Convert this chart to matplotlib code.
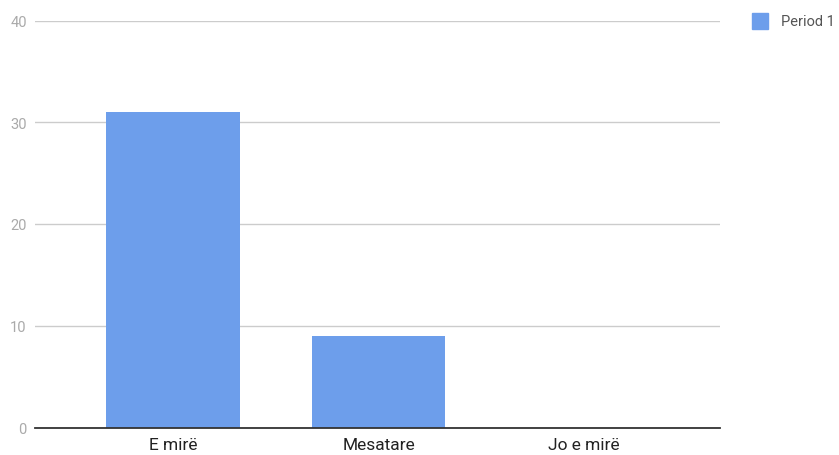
import matplotlib.pyplot as plt
from matplotlib.patches import Rectangle

categories = ["E mirë", "Mesatare", "Jo e mirë"]
period1 = [31, 9, 0]
yticks = [0, 10, 20, 30, 40]

BAR = "#6d9eeb"
GRID = "#cccccc"

plt.rcParams["font.family"] = ["Roboto", "DejaVu Sans"]

fig = plt.figure(figsize=(8.39, 4.56), dpi=100)
W, H = 839, 456
ax = fig.add_axes([35 / W, 27.5 / H, 685 / W, 407 / H])

x = list(range(len(categories)))
ax.bar(x, period1, width=0.65, color=BAR, zorder=3)

ax.set_xlim(-0.67, 2.66)
ax.set_ylim(0, 40)
ax.set_yticks(yticks)
ax.set_xticks(x)
ax.set_xticklabels(categories, fontsize=12.5, color="#222222")
ax.tick_params(axis="x", length=0, pad=7)
ax.tick_params(axis="y", length=0, pad=6, labelsize=10.5, labelcolor="#aaaaaa")
ax.grid(axis="y", color=GRID, lw=1.0, zorder=0)
for s in ["top", "right", "left"]:
    ax.spines[s].set_visible(False)
ax.spines["bottom"].set_color("#333333")
ax.spines["bottom"].set_linewidth(1.3)
ax.spines["bottom"].set_zorder(4)

# legend
fig.patches.append(Rectangle((752 / W, 1 - 30 / H), 16 / W, 16 / H,
                             transform=fig.transFigure, color=BAR))
fig.text(781 / W, 1 - 22 / H, "Period 1", fontsize=10.5, color="#555555",
         va="center", ha="left")

fig.savefig("out.png", dpi=100)
